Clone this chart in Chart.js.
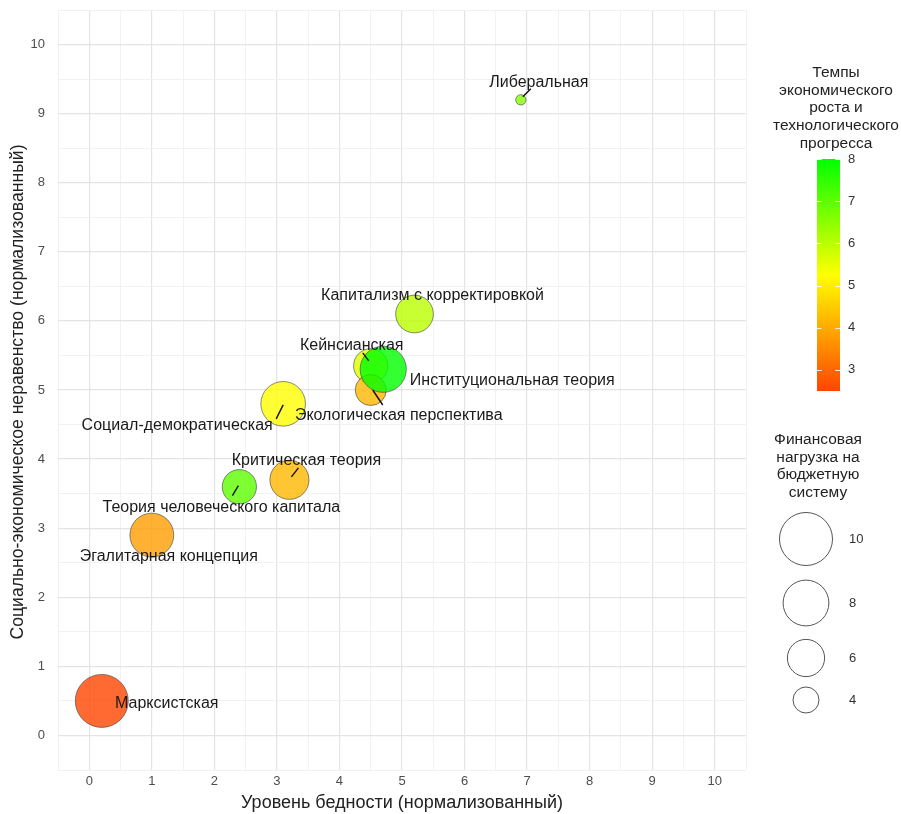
<!DOCTYPE html>
<html>
<head>
<meta charset="utf-8">
<script src="https://cdn.jsdelivr.net/npm/chart.js@4.4.0/dist/chart.umd.min.js"></script>
<style>
html, body { margin: 0; padding: 0; background: #fff; }
#wrap { width: 901px; height: 814px; }
</style>
</head>
<body>
<div id="wrap"><canvas id="bubble-chart" width="901" height="814"></canvas></div>
<script>
// data, in drawing order
var schools = ["Марксистская", "Эгалитарная концепция", "Теория человеческого капитала", "Критическая теория",
  "Социал-демократическая", "Кейнсианская", "Экологическая перспектива", "Капитализм с корректировкой",
  "Институциональная теория", "Либеральная"];
var poverty    = [0.2, 1.0, 2.4, 3.2, 3.1, 4.5, 4.5, 5.2, 4.7, 6.9];
var inequality = [0.5, 2.9, 3.6, 3.7, 4.8, 5.35, 5.0, 6.1, 5.3, 9.2];
var growth     = [2.5, 3.8, 7.0, 4.2, 5.2, 5.6, 4.2, 6.0, 8.0, 6.6];
var burden     = [10, 7.5, 5.4, 6.4, 7.7, 5.4, 4.8, 6.1, 8.1, 2.4];

var axisTicks   = [0, 1, 2, 3, 4, 5, 6, 7, 8, 9, 10];
var growthTicks = [3, 4, 5, 6, 7, 8];
var burdenTicks = [10, 8, 6, 4];

// label placement (px from the point centre) and leader lines
var labelOffsets = [[65, 3], [17, 22], [-18, 21], [17, -19], [-106, 22], [-19, -20], [28, 26], [18, -18], [129, 11], [18, -17]];
var leaderLines = [null, null, [-1, -1, -7, 9], [2, -3, 9, -12], [0, 1, -7, 15], [-2, -5, -8, -13],
  [2, 0, 12, 15], null, null, [2, -3, 10, -11]];

var growthMin = 2.5, growthMax = 8;
var lowColor = [255, 69, 0], midColor = [255, 255, 0], highColor = [0, 255, 0];
var FONT = '"Liberation Sans", Arial, sans-serif';

function growthColor(v, alpha) {
  var t = (v - growthMin) / (growthMax - growthMin);
  t = Math.max(0, Math.min(1, t));
  var a, b, f;
  if (t < 0.5) { a = lowColor; b = midColor; f = t / 0.5; }
  else { a = midColor; b = highColor; f = (t - 0.5) / 0.5; }
  var c = [0, 1, 2].map(function (k) { return Math.round(a[k] + (b[k] - a[k]) * f); });
  return 'rgba(' + c[0] + ',' + c[1] + ',' + c[2] + ',' + alpha + ')';
}

function burdenRadius(v) {
  return 9.43 * Math.sqrt(Math.max(v - 2.1, 0.05));
}

var points = poverty.map(function (x, i) {
  return { x: x, y: inequality[i], r: burdenRadius(burden[i]) };
});

function gridColor(ctx) {
  var v = ctx.tick ? ctx.tick.value : 0;
  return Number.isInteger(v) ? '#e4e4e4' : '#f0f0f0';
}
function gridWidth(ctx) {
  var v = ctx.tick ? ctx.tick.value : 0;
  return Number.isInteger(v) ? 1.2 : 0.9;
}
function tickLabel(v) {
  return axisTicks.indexOf(v) >= 0 ? String(v) : '';
}

var extras = {
  id: 'extras',
  afterDatasetsDraw: function (chart) {
    var ctx = chart.ctx;
    var meta = chart.getDatasetMeta(0);
    ctx.save();
    ctx.strokeStyle = '#111';
    ctx.lineWidth = 1.4;
    meta.data.forEach(function (pt, i) {
      var s = leaderLines[i];
      if (!s) return;
      ctx.beginPath();
      ctx.moveTo(pt.x + s[0], pt.y + s[1]);
      ctx.lineTo(pt.x + s[2], pt.y + s[3]);
      ctx.stroke();
    });
    ctx.font = '16px ' + FONT;
    ctx.fillStyle = '#1a1a1a';
    ctx.textAlign = 'center';
    ctx.textBaseline = 'middle';
    meta.data.forEach(function (pt, i) {
      ctx.fillText(schools[i], pt.x + labelOffsets[i][0], pt.y + labelOffsets[i][1]);
    });
    ctx.restore();
  },
  afterDraw: function (chart) {
    var ctx = chart.ctx, area = chart.chartArea;
    ctx.save();
    // axis titles
    ctx.fillStyle = '#222';
    ctx.font = '18px ' + FONT;
    ctx.textAlign = 'center';
    ctx.textBaseline = 'middle';
    ctx.fillText('Уровень бедности (нормализованный)', (area.left + area.right) / 2, 803);
    ctx.save();
    ctx.font = '17.6px ' + FONT;
    ctx.translate(18, 392);
    ctx.rotate(-Math.PI / 2);
    ctx.fillText('Социально-экономическое неравенство (нормализованный)', 0, 0);
    ctx.restore();

    // colour legend
    ctx.font = '15.5px ' + FONT;
    ['Темпы', 'экономического', 'роста и', 'технологического', 'прогресса'].forEach(function (t, i) {
      ctx.fillText(t, 836, 73 + i * 17.6);
    });
    var bx = 817, bw = 23, yTop = 159, yBot = 391;
    var gy = function (v) { return yBot - (v - growthMin) / (growthMax - growthMin) * (yBot - yTop); };
    var grad = ctx.createLinearGradient(0, yBot, 0, yTop);
    grad.addColorStop(0, growthColor(growthMin, 1));
    grad.addColorStop(0.5, growthColor((growthMin + growthMax) / 2, 1));
    grad.addColorStop(1, growthColor(growthMax, 1));
    ctx.fillStyle = grad;
    ctx.fillRect(bx, yTop, bw, yBot - yTop);
    ctx.strokeStyle = 'rgba(255,255,255,0.9)';
    ctx.lineWidth = 1;
    ctx.font = '13px ' + FONT;
    ctx.fillStyle = '#333';
    ctx.textAlign = 'left';
    growthTicks.forEach(function (v) {
      var y = Math.round(gy(v)) + 0.5;
      ctx.beginPath();
      ctx.moveTo(bx, y); ctx.lineTo(bx + 4.6, y);
      ctx.moveTo(bx + bw - 4.6, y); ctx.lineTo(bx + bw, y);
      ctx.stroke();
      ctx.fillText(String(v), 848, gy(v));
    });

    // size legend
    ctx.fillStyle = '#222';
    ctx.font = '15.5px ' + FONT;
    ctx.textAlign = 'center';
    ['Финансовая', 'нагрузка на', 'бюджетную', 'систему'].forEach(function (t, i) {
      ctx.fillText(t, 818, 440 + i * 17.6);
    });
    var centres = [539, 603, 658, 700];
    ctx.strokeStyle = '#555';
    ctx.lineWidth = 1;
    ctx.font = '13px ' + FONT;
    ctx.fillStyle = '#333';
    ctx.textAlign = 'left';
    burdenTicks.forEach(function (v, i) {
      ctx.beginPath();
      ctx.arc(806, centres[i], burdenRadius(v), 0, Math.PI * 2);
      ctx.stroke();
      ctx.fillText(String(v), 849, centres[i]);
    });
    ctx.restore();
  }
};

new Chart(document.getElementById('bubble-chart'), {
  type: 'bubble',
  data: {
    datasets: [{
      data: points,
      backgroundColor: function (c) { return growthColor(growth[c.dataIndex], 0.8); },
      borderColor: 'rgba(60,60,60,0.75)',
      borderWidth: 0.8,
      hoverBorderWidth: 0.8
    }]
  },
  options: {
    responsive: false,
    animation: false,
    devicePixelRatio: 1,
    layout: { autoPadding: false, padding: { top: 10, right: 155, left: 0, bottom: 0 } },
    plugins: { legend: { display: false }, tooltip: { enabled: false } },
    scales: {
      x: {
        type: 'linear', min: -0.5, max: 10.5,
        afterFit: function (s) { s.height = 44; s.paddingLeft = 0; s.paddingRight = 0; },
        border: { display: false },
        grid: { color: gridColor, lineWidth: gridWidth, drawTicks: false },
        ticks: { stepSize: 0.5, autoSkip: false, maxRotation: 0, padding: 4, color: '#4d4d4d',
          font: { family: FONT, size: 13 }, callback: tickLabel }
      },
      y: {
        type: 'linear', min: -0.5, max: 10.5,
        afterFit: function (s) { s.width = 58; s.paddingTop = 0; s.paddingBottom = 0; },
        border: { display: false },
        grid: { color: gridColor, lineWidth: gridWidth, drawTicks: false },
        ticks: { stepSize: 0.5, autoSkip: false, padding: 13, color: '#4d4d4d',
          font: { family: FONT, size: 13 }, callback: tickLabel }
      }
    }
  },
  plugins: [extras]
});
</script>
</body>
</html>
